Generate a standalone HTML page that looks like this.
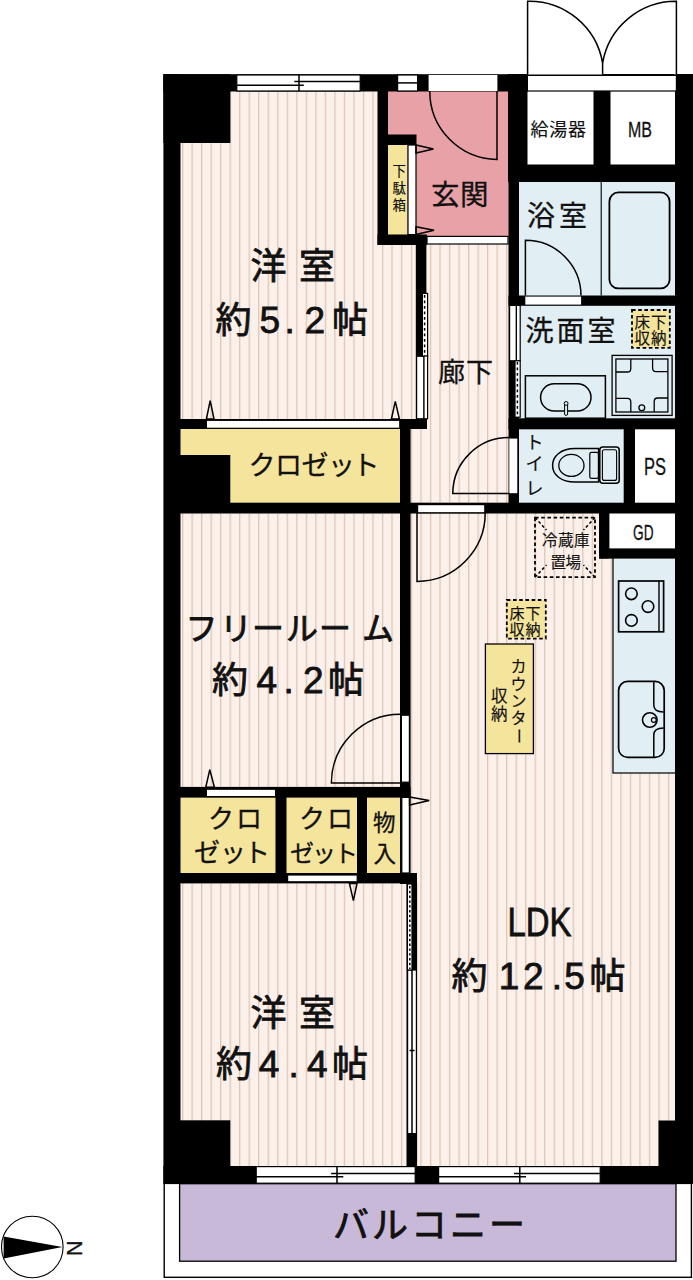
<!DOCTYPE html>
<html lang="ja">
<head>
<meta charset="utf-8">
<title>間取り図</title>
<style>
html,body{margin:0;padding:0;background:#fff;}
body{width:693px;height:1280px;overflow:hidden;}
svg{display:block;}
text{font-family:"Liberation Sans","Noto Sans CJK JP",sans-serif;fill:#111;stroke:#111;stroke-width:0.8;}
text.s{stroke-width:0.15;}
text.m{stroke-width:0.3;}
.k{fill:#000;}
.w{fill:#fff;stroke:#000;stroke-width:1.2;}
.ln{fill:none;stroke:#000;stroke-width:1.5;}
.y{fill:#f5e49c;}
.b{fill:#e1eef3;}
</style>
</head>
<body>
<svg width="693" height="1280" viewBox="0 0 693 1280">
<defs>
<pattern id="fl" x="1.1" y="0" width="9.52" height="40" patternUnits="userSpaceOnUse">
<rect x="0" y="0" width="9.52" height="40" fill="#fcf0ea"/>
<rect x="0" y="0" width="1.25" height="40" fill="#dcc5b6"/>
</pattern>
<pattern id="fr" x="1.5" y="0" width="9.52" height="40" patternUnits="userSpaceOnUse">
<rect x="0" y="0" width="9.52" height="40" fill="#fcf0ea"/>
<rect x="0" y="0" width="1.25" height="40" fill="#dcc5b6"/>
</pattern>
</defs>
<rect x="0" y="0" width="693" height="1280" fill="#fff"/>

<!-- floor -->
<g id="floors">
<rect x="170" y="85" width="240" height="1090" fill="url(#fl)"/>
<rect x="410" y="85" width="272" height="1090" fill="url(#fr)"/>
</g>

<!-- coloured areas -->
<g id="areas">
<rect x="386" y="88" width="124" height="149" fill="#e8a1a7"/>
<rect x="386" y="144" width="21" height="92" class="y"/>
<rect x="525" y="88" width="70" height="78" fill="#fff"/>
<rect x="609" y="88" width="69" height="78" fill="#fff"/>
<rect x="517" y="180" width="160" height="117" class="b"/>
<rect x="517" y="304" width="160" height="116" class="b"/>
<rect x="517" y="428" width="108" height="76" class="b"/>
<rect x="633" y="428" width="44" height="76" fill="#fff"/>
<rect x="608" y="512" width="69" height="38" fill="#fff"/>
<rect x="613" y="557" width="64" height="216" class="b" stroke="#000" stroke-width="1.2"/>
<rect x="179" y="428" width="222" height="76" class="y"/>
<rect x="179" y="796" width="222" height="78" class="y"/>
<rect x="164.2" y="1183.4" width="527.2" height="93.9" fill="#fff" stroke="#000" stroke-width="1.4"/>
<rect x="179.6" y="1183.7" width="496.4" height="77.5" fill="#c8b9d9" stroke="#000" stroke-width="1.3"/>
</g>

<!-- walls -->
<g id="walls" class="k">
<rect x="163.4" y="74.2" width="17.1" height="1109.4"/>
<rect x="675" y="74.2" width="18" height="1109.4"/>
<rect x="163.4" y="74.2" width="67" height="68.8"/>
<rect x="163.4" y="74.2" width="364.6" height="17.3"/>
<rect x="527" y="74" width="166" height="1.6"/>
<rect x="377.5" y="91" width="10.5" height="154"/>
<rect x="388" y="134.5" width="28.5" height="10.5"/>
<rect x="377.5" y="234.5" width="49.5" height="10.5"/>
<rect x="415.8" y="244" width="10.6" height="175"/>
<rect x="508" y="74" width="19.5" height="108"/>
<rect x="508.5" y="180" width="10.5" height="333"/>
<rect x="508" y="164.5" width="185" height="17.5"/>
<rect x="593.5" y="91" width="17" height="75"/>
<rect x="508.5" y="295.5" width="170" height="10.3"/>
<rect x="508.5" y="418.3" width="170" height="11"/>
<rect x="623.7" y="429" width="11.3" height="75"/>
<rect x="164" y="502.7" width="520" height="10.8"/>
<rect x="599" y="513" width="10.4" height="45.5"/>
<rect x="599" y="548.4" width="80" height="10.2"/>
<rect x="164" y="419" width="263" height="10"/>
<rect x="400" y="419" width="10.6" height="465"/>
<rect x="180" y="455" width="50.3" height="48"/>
<rect x="164" y="786.9" width="246.6" height="10.7"/>
<rect x="275.5" y="797" width="11" height="77"/>
<rect x="357" y="797" width="10" height="77"/>
<rect x="164" y="873" width="253" height="10.4"/>
<rect x="406.5" y="883" width="10.6" height="284"/>
<rect x="163.4" y="1166" width="529.6" height="17.6"/>
<rect x="180" y="1120.3" width="50.3" height="47"/>
<rect x="658.5" y="1120.5" width="20" height="47"/>
</g>

<!-- openings : windows & door frames -->
<g id="openings">
<!-- top window room1 -->
<rect x="236.8" y="75" width="123.4" height="16" class="w"/>
<path class="ln" d="M237 85.3H303.8M294.3 81.5H360M299 75V91" stroke-width="1.3"/>
<rect x="397.6" y="75" width="20" height="16" class="w"/>
<path class="ln" d="M397.6 82.9H417.6" stroke-width="2"/>
<rect x="428.6" y="75" width="68.8" height="16" fill="#fff"/>
<!-- top right strip -->
<rect x="527.4" y="75.4" width="149" height="15.6" class="w"/>
<!-- shoe box door -->
<rect x="408" y="145" width="8" height="89.6" class="w"/>
<!-- genkan step -->
<rect x="427" y="236.4" width="81" height="7.6" class="w"/>
<!-- bath door sill -->
<rect x="525.3" y="296.6" width="55.8" height="8" fill="#fff"/>
<!-- senmen sliding -->
<rect x="509.6" y="305.4" width="6.8" height="55.4" class="w"/>
<rect x="516.4" y="305.4" width="3.8" height="55.4" class="w" stroke-width="1.1"/>
<rect x="515" y="360.8" width="5.2" height="56.4" class="w" stroke-width="1.1"/>
<path class="ln" d="M517.4 362V417" stroke-dasharray="2.8 2.7" stroke-width="1.6"/>
<!-- toilet door -->
<rect x="509.3" y="438.6" width="8" height="54.6" fill="#fff"/>
<!-- LDK door frame -->
<rect x="417.6" y="504.6" width="67.2" height="8.2" class="w"/>
<!-- room1 closet door -->
<rect x="206.4" y="420.3" width="193.4" height="8" class="w"/>
<!-- room1 / hall sliding -->
<rect x="416.6" y="356.2" width="7.4" height="62.6" class="w"/>
<rect x="422.4" y="293.4" width="5.2" height="63" class="w" stroke-width="1.1"/>
<rect x="424" y="356" width="3.6" height="62.8" class="w" stroke-width="1"/>
<path class="ln" d="M424.6 295V356" stroke-dasharray="2.8 2.7" stroke-width="1.6"/>
<!-- free room closet door -->
<rect x="206.4" y="789.2" width="69.2" height="7.4" class="w"/>
<!-- free room door frame -->
<rect x="401.4" y="715.2" width="8" height="67" class="w"/>
<!-- monoire door -->
<rect x="401.8" y="797.4" width="7.6" height="75.6" class="w"/>
<!-- closet2 door (bedroom side) -->
<rect x="287.6" y="875" width="69.6" height="6.8" class="w"/>
<!-- bedroom2 / LDK sliding -->
<rect x="407.6" y="970" width="8.8" height="163.6" class="w"/>
<path class="ln" d="M412 970V1133.6M409.6 1050.6H414.6" stroke-width="0.9"/>
<rect x="407.4" y="884" width="4.6" height="86" class="w" stroke-width="1"/>
<path class="ln" d="M409.8 886V969" stroke-dasharray="2.4 2.4" stroke-width="0.9"/>
<!-- bottom windows -->
<rect x="256.2" y="1166.6" width="159" height="16.6" class="w"/>
<path class="ln" d="M256 1176.7H343.3M331.2 1173.5H415M337 1166.6V1183" stroke-width="1.3"/>
<rect x="438.6" y="1166.6" width="161.6" height="16.6" class="w"/>
<path class="ln" d="M438.6 1176.7H526M514 1173.5H600M519.8 1166.6V1183" stroke-width="1.3"/>
</g>

<!-- door swings -->
<g id="doors" class="ln">
<path d="M527.6 74.6V1.2A74.4 74.4 0 0 1 602.6 63V74.6M676.4 74.6V1.2A74.4 74.4 0 0 0 602.6 63" fill="#fff"/>
<path d="M497 91V159.4A68 68 0 0 1 429.8 91"/>
<path d="M525.4 295.6V240.2A55.6 55.6 0 0 1 581 295.6"/>
<path d="M509.2 493.4H452.8A56 56 0 0 1 509 437.6"/>
<path d="M417 512.8V581.4A68.4 68.4 0 0 0 485.2 512.8"/>
<path d="M400.4 783H331.4A69 69 0 0 1 400.4 714.2"/>
</g>

<!-- arrows -->
<g id="arrows" fill="none" stroke="#000" stroke-width="1.5" stroke-linejoin="miter">
<path d="M416 145L433.4 148.9L416 153z"/>
<path d="M416 226.8L434 230.3L416 234.6z"/>
<path d="M206.4 419L210.2 400.6L214 419z"/>
<path d="M391.4 419L395.3 401.4L399.4 419z"/>
<path d="M205.8 787.2L209.8 769.6L214.4 787.2z"/>
<path d="M409.6 797L429.2 800.6L409.6 805z"/>
<path d="M349.4 883.4L353.4 900.6L357 883.4z"/>
</g>

<!-- fixtures -->
<g id="fixtures" class="ln">
<line x1="601.2" y1="182" x2="601.2" y2="295.6" stroke-width="1.1"/>
<rect x="609.4" y="192.4" width="60.2" height="96" rx="9" ry="9" class="b" stroke-width="1.8"/>
<!-- vanity -->
<rect x="525.4" y="375.8" width="80" height="42.4" class="b"/>
<rect x="540.6" y="383.8" width="50.4" height="27.2" rx="13.6" ry="13.6" class="b" stroke-width="1.5"/>
<rect x="564.6" y="402.4" width="3" height="13" rx="1.4" fill="#e1eef3" stroke-width="1"/>
<circle cx="566.1" cy="403.4" r="1.9" fill="#e1eef3" stroke-width="1"/>
<!-- washer pan -->
<rect x="612.1" y="355.4" width="60" height="60" class="b" stroke-width="1.3"/>
<rect x="615.9" y="359" width="52" height="53" class="b" stroke-width="1.3"/>
<path d="M615.9 372H627.4Q630.8 372 630.8 368.4V359M667.9 371.6H656Q652.6 371.6 652.6 368V359M615.9 398.4H627.4Q630.8 398.4 630.8 402V412M667.9 398H657.6Q654.2 398 654.2 401.6V412" stroke-width="1.3"/>
<circle cx="641.8" cy="407.8" r="2.9" class="b" stroke-width="1.3"/>
<!-- toilet -->
<rect x="599.8" y="447" width="19.4" height="36.2" rx="3" class="b" stroke-width="1.5"/>
<rect x="602.4" y="449.8" width="14.2" height="30.6" rx="2" class="b" stroke-width="1.1"/>
<path d="M598.6 448.6H575C561 448.6 552.6 456 552.6 465.4C552.6 474.8 561 482 575 482H598.6z" class="b" stroke-width="1.5"/>
<rect x="589.8" y="452.4" width="8.6" height="26" rx="1.6" class="b" stroke-width="1.2"/>
<ellipse cx="571.4" cy="465.4" rx="12.6" ry="11" class="b" stroke-width="1.3"/>
<!-- stove -->
<rect x="618.6" y="581" width="45" height="50.8" class="b" stroke-width="1.7"/>
<line x1="659" y1="581" x2="659" y2="631.8" stroke-width="1.4"/>
<circle cx="631.4" cy="593.8" r="5.8" stroke-width="1.6"/>
<circle cx="648" cy="606.6" r="5.8" stroke-width="1.6"/>
<circle cx="631.4" cy="620.4" r="5.8" stroke-width="1.6"/>
<!-- sink -->
<rect x="618.6" y="681.4" width="45.6" height="76" rx="9" class="b" stroke-width="1.7"/>
<path d="M653.8 682V705C653.8 710 657 712 663.6 712M653.8 757V735C653.8 730 657 728 663.6 728" stroke-width="1.5"/>
<circle cx="649.8" cy="720" r="7.3" class="b" stroke-width="1.6"/>
<circle cx="653.8" cy="720" r="2.4" stroke-width="1.2"/>
<!-- counter -->
<rect x="485.4" y="644" width="48" height="109.6" class="y" stroke-width="1.3"/>
<!-- dashed boxes -->
<rect x="632" y="310" width="37.8" height="37.8" class="y" stroke-width="1.8" stroke-dasharray="3.6 2.6"/>
<rect x="506.8" y="600" width="39" height="38.6" class="y" stroke-width="1.8" stroke-dasharray="3.6 2.6"/>
<rect x="535" y="517.6" width="60" height="59.6" stroke-width="1.8" stroke-dasharray="3.6 2.6"/>
<path d="M535 517.6L546.5 530M595 517.6L583.5 530M535 577.2L546.5 565M595 577.2L583.5 565" stroke-width="1.5" stroke-dasharray="3 2.2"/>
</g>

<!-- compass -->
<g id="compass">
<circle cx="32.3" cy="1247" r="30.8" fill="#fff" stroke="#000" stroke-width="1.1"/>
<path d="M3.6 1236.4L62.4 1247.1L3.6 1258.4z" fill="#000"/>
<text class="m" transform="translate(67 1240.6) rotate(90)" font-size="21.5" style="font-family:'Liberation Sans',sans-serif">N</text>
</g>

<!-- labels -->
<g id="labels">
<text x="250.5 299" y="279.4" font-size="36">洋室</text>
<text y="333" font-size="36"><tspan x="215.5">約</tspan><tspan x="259.5" font-size="37">5</tspan><tspan x="284.5" font-size="37">.</tspan><tspan x="304.5" font-size="37">2</tspan><tspan x="332">帖</tspan></text>
<text class="m" x="431 460" y="204.6" font-size="28.5">玄関</text>
<text class="m" x="438 466" y="382" font-size="27">廊下</text>
<text class="m" x="527 559" y="226" font-size="28">浴室</text>
<text class="m" x="525.6 556.6 587.6" y="341" font-size="28">洗面室</text>
<text class="s" x="530.5 549.3 568.1" y="136" font-size="18">給湯器</text>
<text class="m" x="628" y="137" font-size="22" textLength="24" lengthAdjust="spacingAndGlyphs">MB</text>
<text class="m" x="644" y="474.6" font-size="23" textLength="22" lengthAdjust="spacingAndGlyphs">PS</text>
<text class="m" x="633" y="540" font-size="22" textLength="20.5" lengthAdjust="spacingAndGlyphs">GD</text>
<text class="m" x="248.5 275 301.5 328 352.5" y="475" font-size="27">クロゼット</text>
<text x="185.5 220 252 286 319 362" y="640" font-size="32">フリールーム</text>
<text y="693.4" font-size="36"><tspan x="212">約</tspan><tspan x="256.5" font-size="37">4</tspan><tspan x="283.5" font-size="37">.</tspan><tspan x="303" font-size="37">2</tspan><tspan x="328">帖</tspan></text>
<text class="m" x="208 236" y="828" font-size="26">クロ</text>
<text class="m" x="194 220 244" y="862" font-size="26">ゼット</text>
<text class="m" x="299 327" y="828" font-size="26">クロ</text>
<text class="m" x="290 312 334" y="862" font-size="24">ゼット</text>
<text class="m" x="373" y="831" font-size="22.5">物</text>
<text class="m" x="373.4" y="861.6" font-size="22.5">入</text>
<text x="507.5" y="936.4" font-size="40" textLength="64" lengthAdjust="spacingAndGlyphs">LDK</text>
<text y="989.4" font-size="36"><tspan x="451.5">約</tspan><tspan x="498.7" font-size="37">1</tspan><tspan x="523" font-size="37">2</tspan><tspan x="551.7" font-size="37">.</tspan><tspan x="564.3" font-size="37">5</tspan><tspan x="589.5">帖</tspan></text>
<text x="250.5 299" y="1026" font-size="36">洋室</text>
<text y="1077.4" font-size="36"><tspan x="216">約</tspan><tspan x="258.7" font-size="37">4</tspan><tspan x="288.5" font-size="37">.</tspan><tspan x="307" font-size="37">4</tspan><tspan x="332">帖</tspan></text>
<text x="333 372 411 450 489" y="1238" font-size="36">バルコニー</text>
<text class="s" x="392.6" y="176" font-size="13.5">下</text>
<text class="s" x="392.6" y="193" font-size="13.5">駄</text>
<text class="s" x="392.6" y="210" font-size="13.5">箱</text>
<text class="s" x="525.5" y="449.4" font-size="18">ト</text>
<text class="s" x="525.5" y="469.6" font-size="18">イ</text>
<text class="s" x="525.5" y="495.4" font-size="18">レ</text>
<text class="s" x="634.5 651" y="327.6" font-size="15.5">床下</text>
<text class="s" x="634.5 651" y="343.6" font-size="15.5">収納</text>
<text class="s" x="509.5 525.5" y="619.4" font-size="15">床下</text>
<text class="s" x="509.5 525.5" y="635.4" font-size="15">収納</text>
<text class="s" x="542 558 574" y="545.6" font-size="15.5">冷蔵庫</text>
<text class="s" x="550.5 565.5" y="568.4" font-size="15.5">置場</text>
<text class="s" x="510.4" y="672" font-size="16">カ</text>
<text class="s" x="510.4" y="689.6" font-size="16">ウ</text>
<text class="s" x="510.4" y="707" font-size="16">ン</text>
<text class="s" x="510.4" y="724.4" font-size="16">タ</text>
<text class="s" transform="translate(510.4 742) rotate(90)" x="-14" y="-2.4" font-size="16">ー</text>
<text class="s" x="491" y="702.4" font-size="16.5">収</text>
<text class="s" x="491" y="720" font-size="16.5">納</text>
</g>
</svg>
</body>
</html>
